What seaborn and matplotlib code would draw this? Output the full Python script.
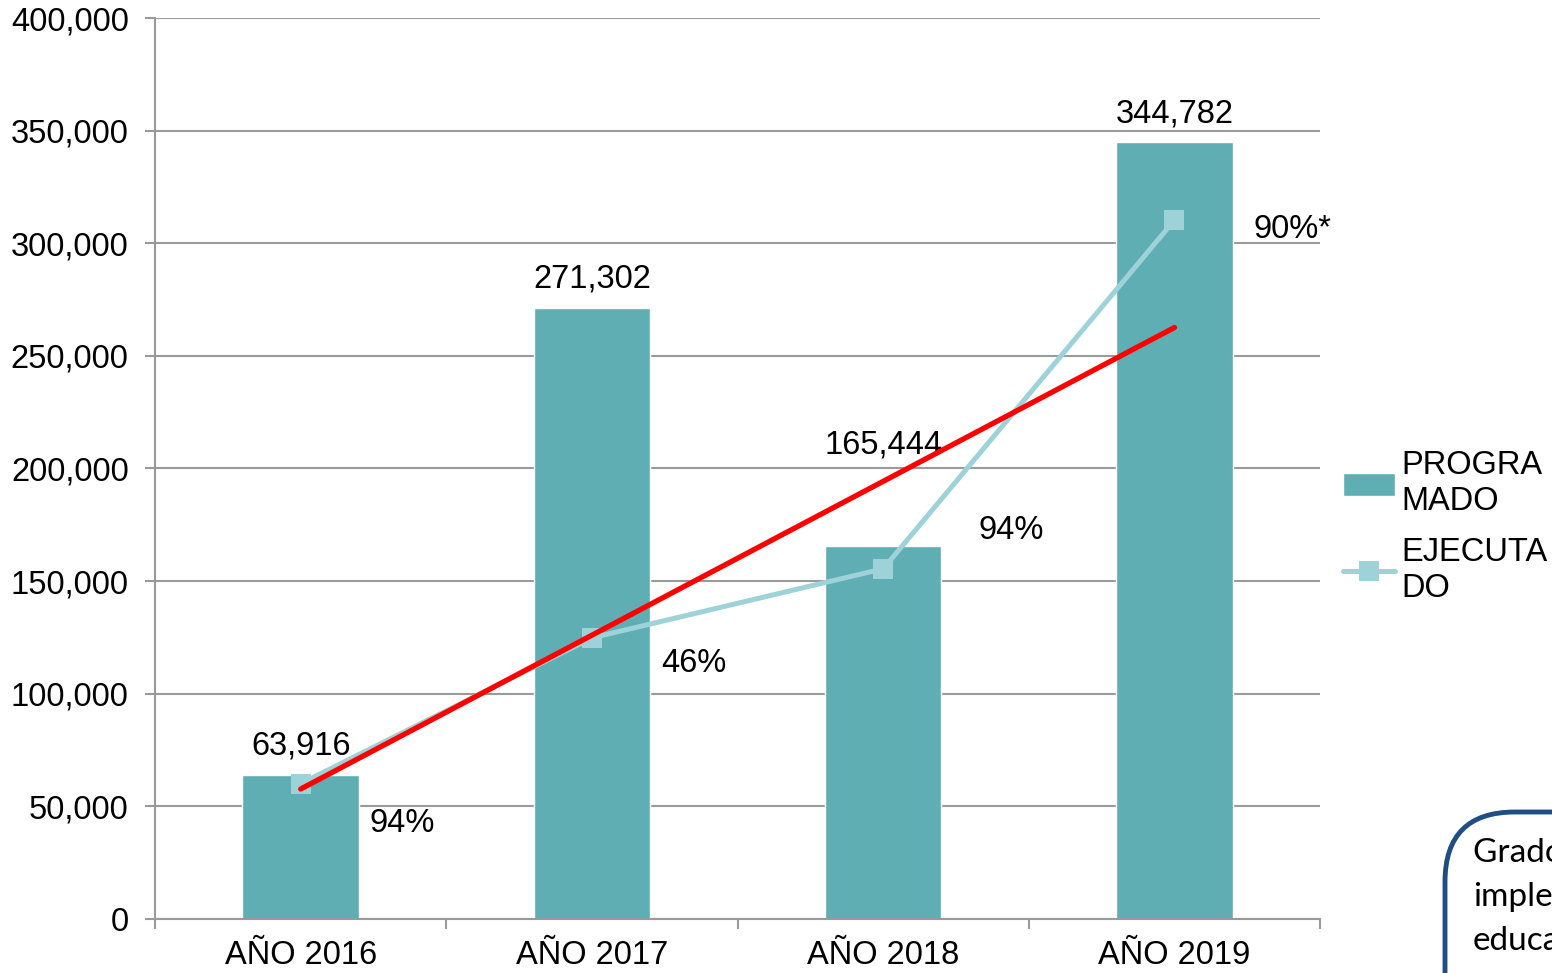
import pandas as pd
import numpy as np
import seaborn as sns
import matplotlib.pyplot as plt
from matplotlib.patches import FancyBboxPatch
from matplotlib.ticker import FuncFormatter

# chart data
years = ["AÑO 2016", "AÑO 2017", "AÑO 2018", "AÑO 2019"]
programado = [63916, 271302, 165444, 344782]
ejecutado = [60080, 124800, 155500, 310300]
pct_labels = ["94%", "46%", "94%", "90%*"]
trend_years = ["AÑO 2016", "AÑO 2019"]
trend_values = [57700, 262600]
note_lines = ["Grado de", "implementación", "educativa"]

sns.set_theme(style="white")
plt.rcParams['font.family'] = ['Liberation Sans', 'DejaVu Sans']
plt.rcParams['text.color'] = 'black'
plt.rcParams['xtick.color'] = 'black'
plt.rcParams['ytick.color'] = 'black'

bar_color = "#5FAEB3"
line_color = "#9DD2D8"
grid_color = "#9A9A9A"
fs = 23.5

df = pd.DataFrame({"year": years, "prog": programado, "ejec": ejecutado})
df["pos"] = range(len(years))

fig = plt.figure(figsize=(15.52, 9.73), dpi=100)
ax = fig.add_axes([0.0999, 0.0555, 0.7507, 0.926])

sns.barplot(data=df, x="year", y="prog", color=bar_color, width=0.4,
            saturation=1, ax=ax, label="PROGRA\nMADO", zorder=2)
sns.lineplot(data=df, x="pos", y="ejec", color=line_color, lw=3.6,
             marker="s", markersize=14, markeredgewidth=0, ax=ax,
             label="EJECUTA\nDO", zorder=3, sort=False)
trend_pos = [years.index(y) for y in trend_years]
sns.lineplot(x=trend_pos, y=trend_values, color="#FF0000", lw=3.8,
             ax=ax, zorder=4, legend=False, solid_capstyle="round")

# value labels over bars (2018 label sits higher, as in the original)
value_offsets = [12900, 12900, 45000, 12700]
for i, (v, off) in enumerate(zip(programado, value_offsets)):
    ax.text(i, v + off, f"{v:,}", ha="center", va="center", fontsize=fs)

# percentage labels next to executed markers
pct_offsets = [(0.35, -17500), (0.35, -11500), (0.44, 17000), (0.405, -4000)]
for i, (lab, (dx, dy)) in enumerate(zip(pct_labels, pct_offsets)):
    ax.text(i + dx, ejecutado[i] + dy, lab, ha="center", va="center", fontsize=fs)

ax.set_xlim(-0.5, 3.5)
ax.set_ylim(0, 400000)
ax.set_yticks(np.arange(0, 400001, 50000))
ax.yaxis.set_major_formatter(FuncFormatter(lambda v, p: f"{int(v):,}"))
ax.set_xlabel("")
ax.set_ylabel("")
ax.yaxis.grid(True, color=grid_color, lw=1.5, zorder=0)
ax.set_axisbelow(True)

for s in ["top", "right"]:
    ax.spines[s].set_visible(False)
for s in ["left", "bottom"]:
    ax.spines[s].set_color(grid_color)
    ax.spines[s].set_linewidth(1.5)

ax.tick_params(axis="y", which="major", length=7, width=1.5, color=grid_color,
               direction="out", labelsize=fs, pad=12, left=True)
ax.set_xticks(np.arange(-0.5, 3.6, 1.0), minor=True)
ax.tick_params(axis="x", which="minor", length=7, width=1.5, color=grid_color,
               direction="out", bottom=True)
ax.tick_params(axis="x", which="major", length=0, labelsize=fs, pad=15)

handles, labels = ax.get_legend_handles_labels()
order = [labels.index("PROGRA\nMADO"), labels.index("EJECUTA\nDO")]
ax.legend([handles[k] for k in order], [labels[k] for k in order],
          loc="center left", bbox_to_anchor=(1343 / 1552, 1 - 527 / 973),
          bbox_transform=fig.transFigure, frameon=False, fontsize=fs,
          handlelength=1.6, handletextpad=0.2, labelspacing=0.6,
          borderpad=0, borderaxespad=0)

# partially visible note box at bottom right
box = FancyBboxPatch((1445 / 1552, -0.1), 0.2, 1 - 812 / 973 + 0.1,
                     boxstyle="round,pad=0,rounding_size=0.045",
                     transform=fig.transFigure, facecolor="white",
                     edgecolor="#1F4E84", lw=3.5, zorder=5,
                     mutation_aspect=1552 / 973)
fig.patches.append(box)
for k, line in enumerate(note_lines):
    fig.text(1473 / 1552, 1 - (853 + 44 * k) / 973, line,
             ha="left", va="center", fontsize=24,
             family=["Lato", "DejaVu Sans"], zorder=6)

fig.savefig("out.png", dpi=100)
